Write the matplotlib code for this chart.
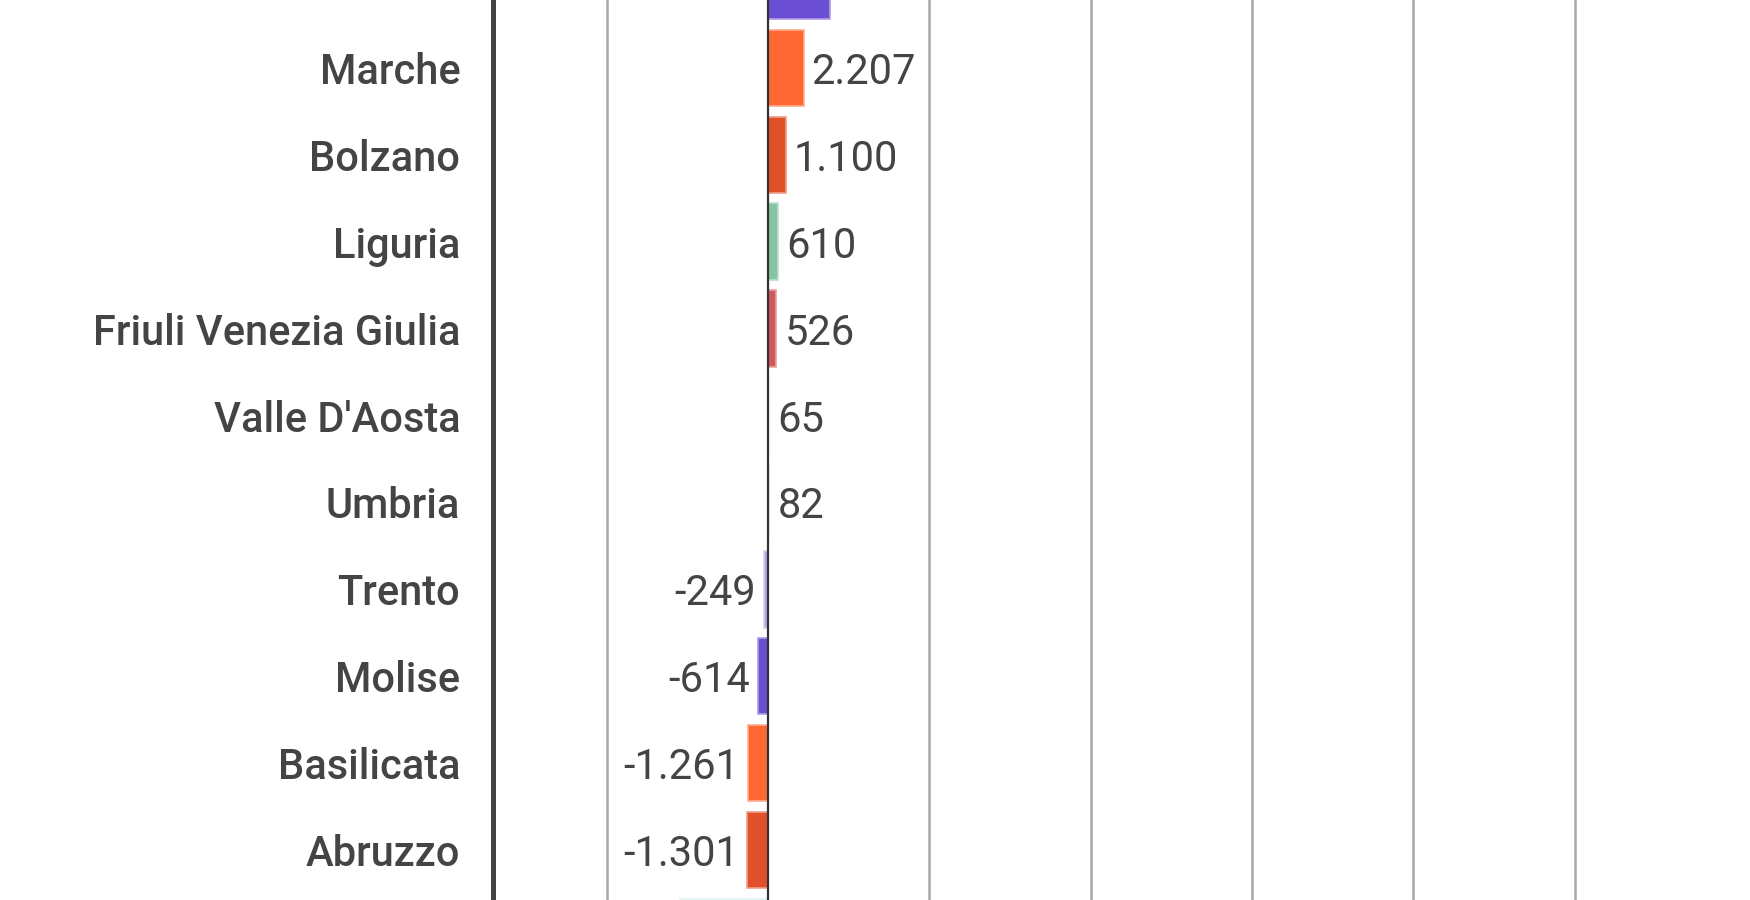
import matplotlib
matplotlib.use("Agg")
import matplotlib.pyplot as plt
from matplotlib.colors import to_rgb

regions = ["Sardegna", "Marche", "Bolzano", "Liguria", "Friuli Venezia Giulia",
           "Valle D'Aosta", "Umbria", "Trento", "Molise", "Basilicata", "Abruzzo", "Sicilia"]
values = [3850, 2207, 1100, 610, 526, 65, 82, -249, -614, -1261, -1301, -5450]
colors = ["#6A4FD4", "#FF6833", "#E2502A", "#86C4A4", "#D0575C", "#FFF3D6",
          "#CDEEF5", "#B4A6E2", "#6A4FD4", "#FF6833", "#E2502A", "#C8EEE8"]
grid_ticks = [-10000, 10000, 20000, 30000, 40000, 50000]

plt.rcParams['font.family'] = ['Roboto', 'DejaVu Sans']

W, H = 17.5, 9.0
fig = plt.figure(figsize=(W, H), dpi=100)
left_px = 493
ax = fig.add_axes([left_px / 1750, 0, 1 - left_px / 1750, 1])

px_per_unit = 0.01613
zero_px = 768
row = 86.9
top_px = -19
y_bottom = (900 - top_px) / row
y_top = (0 - top_px) / row

def lighten(c, f=0.5):
    r, g, b = to_rgb(c)
    return (r + (1 - r) * f, g + (1 - g) * f, b + (1 - b) * f)

ypos = list(range(len(regions)))
for y, v, c in zip(ypos, values, colors):
    ax.barh(y, v, height=0.88, color=c, edgecolor=lighten(c, 0.45), linewidth=1.2, zorder=3)

for g in grid_ticks:
    ax.axvline(g, color="#a8a8a8", lw=1.8, zorder=1)
ax.axvline(0, color="#333333", lw=1.6, zorder=4)

def fmt(v):
    s = f"{abs(v):,}".replace(",", ".")
    return ("-" if v < 0 else "") + s

off = 8 / px_per_unit
for y, v in zip(ypos, values):
    if not (y_top < y < y_bottom):
        continue
    if v >= 0:
        ax.text(v + off, y, fmt(v), ha="left", va="center_baseline", fontsize=30,
                color="#444444", zorder=5)
    else:
        ax.text(v - off, y, fmt(v), ha="right", va="center_baseline", fontsize=30,
                color="#444444", zorder=5)

visible = [y_top < y < y_bottom for y in ypos]
ax.set_yticks([y for y, vis in zip(ypos, visible) if vis])
ax.set_yticklabels([r for r, vis in zip(regions, visible) if vis],
                   fontsize=30, color="#444444", fontweight="medium")
ax.tick_params(axis="y", length=0, pad=23.5)
ax.set_xticks([])

ax.set_xlim(-(zero_px - left_px) / px_per_unit, (1750 - zero_px) / px_per_unit)
ax.set_ylim(y_bottom, y_top)

for s in ["top", "right", "bottom"]:
    ax.spines[s].set_visible(False)
ax.spines["left"].set_color("#444444")
ax.spines["left"].set_linewidth(3.6)

fig.savefig("out.png", dpi=100)
